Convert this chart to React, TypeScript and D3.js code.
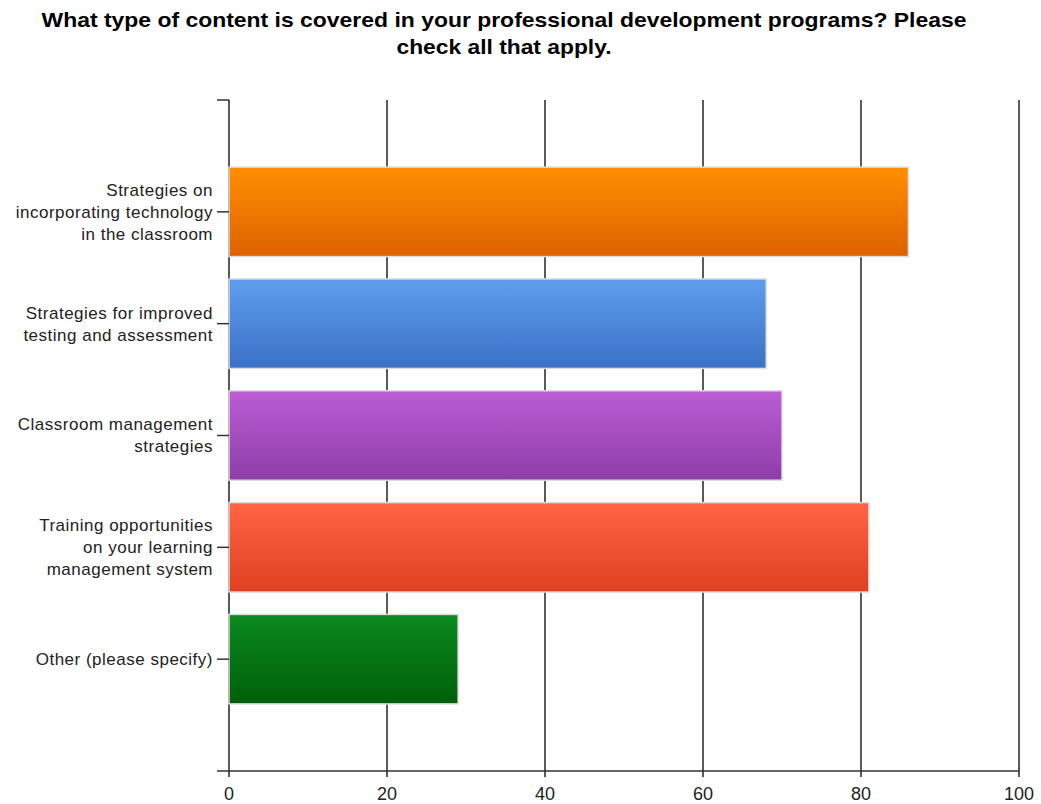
import React from "react";
import * as d3 from "d3";

const title = [
  "What type of content is covered in your professional development programs? Please",
  "check all that apply.",
];
const titleWidths = [925, 215];
const categories = [
  ["Strategies on", "incorporating technology", "in the classroom"],
  ["Strategies for improved", "testing and assessment"],
  ["Classroom management", "strategies"],
  ["Training opportunities", "on your learning", "management system"],
  ["Other (please specify)"],
];
const values = [86, 68, 70, 81, 29];
const colorsTop = ["#ff8f00", "#5e9ded", "#bb5dd6", "#ff6444", "#0b8a1e"];
const colorsBottom = ["#dd6200", "#3a71c6", "#8e3da8", "#de4020", "#005f08"];
const xTicks = [0, 20, 40, 60, 80, 100];

const W = 1041;
const H = 804;
const left = 229;
const right = 1019;
const top = 100;
const bottom = 771;

export default function App() {
  const x = d3.scaleLinear().domain([0, 100]).range([left, right]);
  const y = d3
    .scalePoint<number>()
    .domain(categories.map((_, i) => i))
    .range([top, bottom])
    .padding(1);
  const step = y.step();
  const barH = step * 0.8;
  const font = "Liberation Sans, Arial, sans-serif";

  return (
    <svg
      width={W}
      height={H}
      style={{ position: "absolute", left: 0, top: 0, background: "#fff" }}
    >
      <defs>
        {values.map((_, i) => (
          <linearGradient key={i} id={`g${i}`} x1="0" y1="0" x2="0" y2="1">
            <stop offset="0%" stopColor={colorsTop[i]} />
            <stop offset="100%" stopColor={colorsBottom[i]} />
          </linearGradient>
        ))}
      </defs>
      {title.map((t, i) => (
        <text
          key={i}
          x={504}
          y={27 + i * 27}
          textAnchor="middle"
          fontFamily={font}
          fontWeight="bold"
          fontSize={21}
          textLength={titleWidths[i]}
          lengthAdjust="spacingAndGlyphs"
          fill="#000"
        >
          {t}
        </text>
      ))}
      {/* grid lines */}
      {xTicks.map((t) => (
        <line
          key={t}
          x1={x(t)}
          x2={x(t)}
          y1={top}
          y2={bottom + 6}
          stroke="#222"
          strokeWidth={1.5}
        />
      ))}
      {/* top-left tick */}
      <line x1={left - 12} x2={left} y1={top} y2={top} stroke="#333" strokeWidth={1.5} />
      {/* x axis */}
      <line x1={left - 12} x2={right} y1={bottom} y2={bottom} stroke="#333" strokeWidth={1.5} />
      {/* bars */}
      {values.map((v, i) => (
        <rect
          key={i}
          x={x(0)}
          y={(y(i) as number) - barH / 2}
          width={x(v) - x(0)}
          height={barH}
          fill={`url(#g${i})`}
          stroke="#dcdcdc"
          strokeWidth={1.5}
        />
      ))}
      {/* y ticks + labels */}
      {categories.map((lines, i) => {
        const cy = y(i) as number;
        const lh = 22;
        return (
          <g key={i}>
            <line x1={left - 12} x2={left} y1={cy} y2={cy} stroke="#333" strokeWidth={1.5} />
            {lines.map((l, j) => (
              <text
                key={j}
                x={left - 16}
                y={cy + (j - (lines.length - 1) / 2) * lh}
                dy="0.35em"
                textAnchor="end"
                fontFamily={font}
                fontSize={17}
                letterSpacing={0.5}
                fill="#222"
              >
                {l}
              </text>
            ))}
          </g>
        );
      })}
      {xTicks.map((t) => (
        <text
          key={t}
          x={x(t)}
          y={794}
          dy="0.35em"
          textAnchor="middle"
          fontFamily={font}
          fontSize={18}
          fill="#222"
        >
          {t}
        </text>
      ))}
    </svg>
  );
}
